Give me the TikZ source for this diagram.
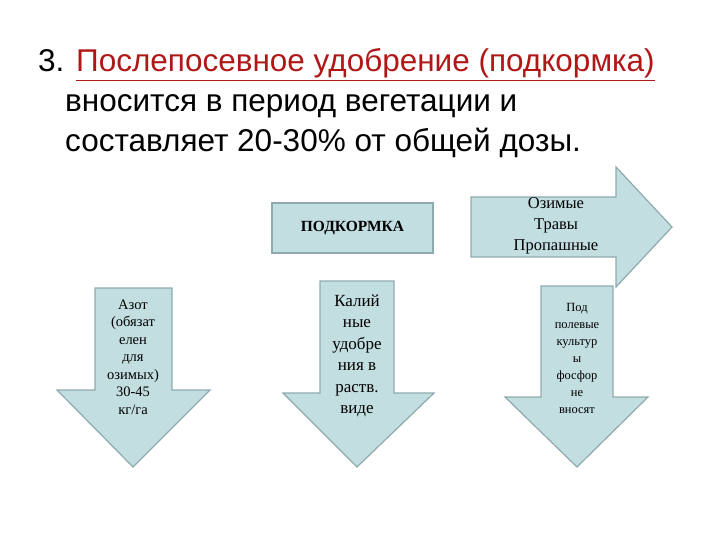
\documentclass[tikz,border=0pt]{standalone}
\usepackage{fontspec}
\setmainfont{Liberation Serif}
\newfontfamily\titlefont{Liberation Sans}
\definecolor{af}{HTML}{C2DEE1}
\definecolor{ad}{HTML}{8FAAAE}
\definecolor{tred}{HTML}{B01818}
\begin{document}
\begin{tikzpicture}[x=1pt,y=-1pt,
  shp/.style={fill=af,draw=ad,line width=1.2pt},
  ttl/.style={anchor=base west,inner sep=0,font=\titlefont\fontsize{31.5}{34}\selectfont},
  lbl/.style={align=center,inner sep=0,text=black}]
\useasboundingbox (0,0) rectangle (720,540);
\node[ttl] (t1) at (38,72) {3. \textcolor{tred}{\underline{Послепосевное удобрение (подкормка)}}};
\node[ttl] (t2) at (65,112) {вносится в период вегетации и};
\node[ttl] (t3) at (65,152) {составляет 20-30\% от общей дозы.};
% left down arrow
\draw[shp] (95,288)--(172,288)--(172,390)--(210,390)--(133,467)--(57,390)--(95,390)--cycle;
\node[lbl,font=\fontsize{14.5}{17.5}\selectfont] (a1) at (133,357) {Азот\\(обязат\\елен\\для\\озимых)\\30-45\\кг/га};
% middle down arrow
\draw[shp] (320,281)--(394,281)--(394,393)--(434,393)--(357,467)--(283,393)--(320,393)--cycle;
\node[lbl,font=\fontsize{17}{21.5}\selectfont] (a2) at (357,356) {Калий\\ные\\удобре\\ния в\\раств.\\виде};
% box
\draw[shp] (272,203) rectangle (433,253);
\node[lbl,font=\bfseries\fontsize{15.5}{18}\selectfont] (b) at (352.5,228) {ПОДКОРМКА};
% right arrow
\draw[shp] (471,197)--(616,197)--(616,167)--(672,227)--(616,287)--(616,257)--(471,257)--cycle;
\node[lbl,font=\fontsize{16.5}{21}\selectfont] (r) at (556,226) {Озимые\\Травы\\Пропашные};
% right down arrow
\draw[shp] (541,286)--(613,286)--(613,397)--(648,397)--(577,467)--(505,397)--(541,397)--cycle;
\node[lbl,font=\fontsize{12.5}{17}\selectfont] (a3) at (577,358) {Под\\полевые\\культур\\ы\\фосфор\\не\\вносят};
\end{tikzpicture}
\end{document}
